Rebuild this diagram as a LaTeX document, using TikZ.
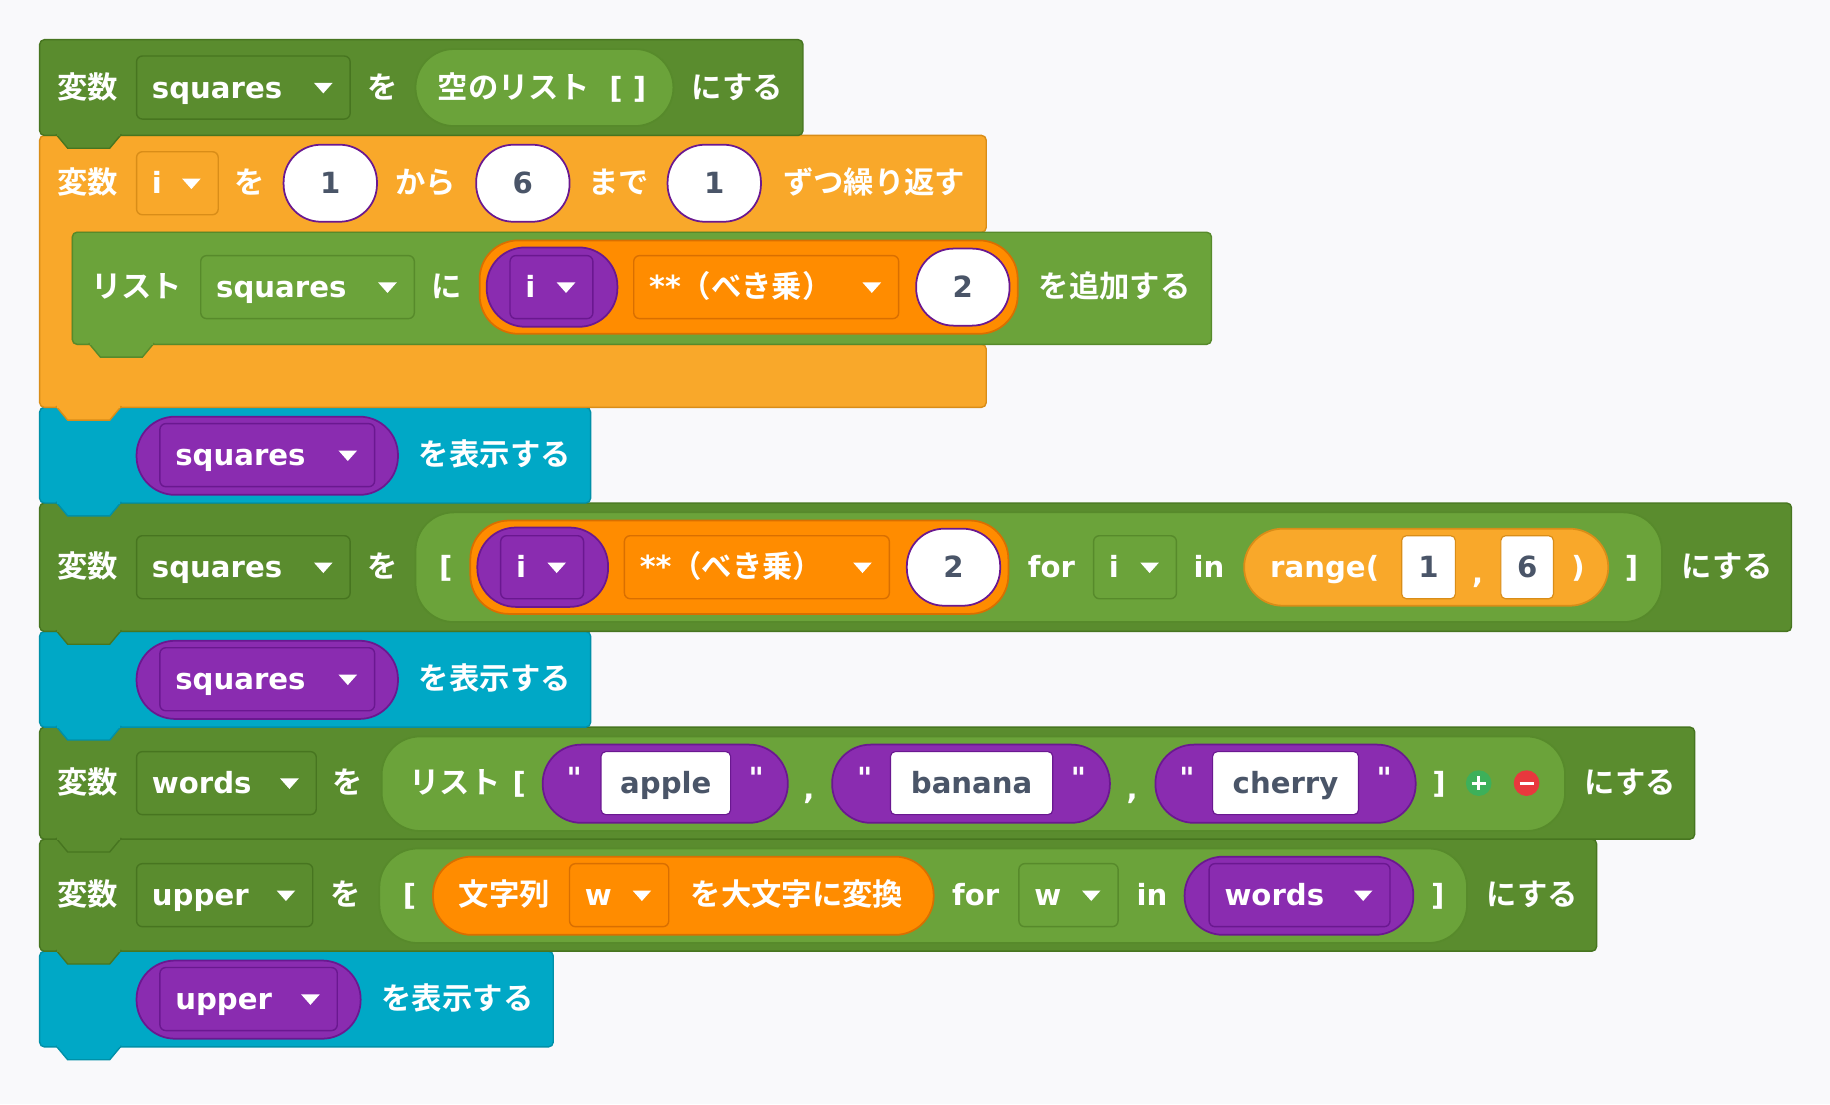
\documentclass[tikz,border=0pt]{standalone}
\usepackage{fontspec}
\setmainfont{Noto Sans CJK JP}[BoldFont={* Bold}]
\newfontfamily\lat{DejaVu Sans}
\definecolor{bg}{HTML}{F9F9FB}
\definecolor{vg}{HTML}{5A8C2E}\definecolor{vgb}{HTML}{477520}
\definecolor{lg}{HTML}{6BA33A}\definecolor{lgb}{HTML}{578A2B}
\definecolor{og}{HTML}{F9A82A}\definecolor{ogb}{HTML}{D98D18}
\definecolor{tl}{HTML}{00A8C6}\definecolor{tlb}{HTML}{0090A8}
\definecolor{pu}{HTML}{8A2CB0}\definecolor{pub}{HTML}{6A1890}
\definecolor{or}{HTML}{FF8C00}\definecolor{orb}{HTML}{D96F00}
\definecolor{sl}{HTML}{4A5568}
\definecolor{pl}{HTML}{3DB05A}\definecolor{mi}{HTML}{E8383D}
\tikzset{
 lbl/.style={text=white,font=\bfseries\fontsize{26}{30}\selectfont,inner sep=0pt,text height=22pt,text depth=4pt},
 ll/.style={lbl,font=\lat\bfseries\fontsize{25}{30}\selectfont},
 dlbl/.style={text=sl,font=\lat\bfseries\fontsize{25}{30}\selectfont,inner sep=0pt,text height=22pt,text depth=4pt},
}
\newcommand{\blk}[6]{%
 \filldraw[fill=#5,draw=#6,line width=1.2pt,rounded corners=4pt] (#1,#2) rectangle (#3,#4);
 \filldraw[fill=#5,draw=#6,line width=1.2pt] (#1+14,#4-1) -- (#1+24,#4+11) -- (#1+60,#4+11) -- (#1+70,#4-1);
 \fill[#5] (#1+15,#4-2) rectangle (#1+69,#4+0.5);}
\newcommand{\ddn}[7]{%
 \filldraw[fill=#5,draw=#6,line width=1.2pt,rounded corners=5pt] (#2,#4-27) rectangle (#3,#4+27);
 \node[ll,anchor=west] (#1) at (#2+13,#4) {#7};
 \fill[white] (#3-31,#4-4) -- (#3-15,#4-4) -- (#3-23,#4+5) -- cycle;}
\newcommand{\pill}[6]{\filldraw[fill=#5,draw=#6,line width=1.5pt,rounded corners=33pt] (#1,#2) rectangle (#3,#4);}
\newcommand{\ov}[5]{\filldraw[fill=white,draw=#5,line width=1.5pt,rounded corners=32pt] (#1,#2-33) rectangle (#3,#2+33);
 \node[dlbl] at ({(#1+#3)/2},#2) {#4};}
\newcommand{\wrect}[5]{\filldraw[fill=white,draw=#5,line width=1pt,rounded corners=4pt] (#1,#2-27) rectangle (#3,#2+27);
 \node[dlbl] at ({(#1+#3)/2},#2) {#4};}
\begin{document}
\begin{tikzpicture}[x=1pt,y=-1pt]
\useasboundingbox (0,0) rectangle (1568,946);
\fill[bg] (0,0) rectangle (1568,946);
% block 8
\blk{34}{815}{474}{897}{tl}{tlb}
\pill{117}{823}{309}{890}{pu}{pub}
\ddn{d8}{137}{289}{856}{pu}{pub}{upper}
\node[lbl] (t8) at (392,856) {を表示する};
% block 7
\blk{34}{719}{1368}{815}{vg}{vgb}
\node[lbl] at (75,767) {変数};
\ddn{d7}{117}{268}{767}{vg}{vgb}{upper}
\node[lbl] at (296,767) {を};
\pill{325}{727}{1257}{808}{lg}{lgb}
\node[ll] at (351,767) {[};
\pill{371}{734}{800}{801}{or}{orb}
\node[lbl] at (432,767) {文字列};
\ddn{d7w}{488}{573}{767}{or}{orb}{w}
\node[lbl] at (683,767) {を大文字に変換};
\node[ll] at (836,767) {for};
\ddn{d7w2}{873}{958}{767}{lg}{lgb}{w}
\node[ll] at (987,767) {in};
\pill{1015}{734}{1211}{801}{pu}{pub}
\ddn{d7x}{1036}{1191}{767}{pu}{pub}{words}
\node[ll] at (1232,767) {]};
\node[lbl] at (1313,767) {にする};
% block 6
\blk{34}{623}{1452}{719}{vg}{vgb}
\node[lbl] at (75,671) {変数};
\ddn{d6}{117}{271}{671}{vg}{vgb}{words}
\node[lbl] at (298,671) {を};
\pill{327}{631}{1341}{712}{lg}{lgb}
\node[lbl] at (390,671) {リスト};
\node[ll] at (445,671) {[};
\pill{465}{638}{675}{705}{pu}{pub}
\node[ll] at (492,667) {"}; \wrect{515}{671}{626}{apple}{pub} \node[ll] at (648,667) {"};
\node[ll] at (693,676) {,};
\pill{713}{638}{951}{705}{pu}{pub}
\node[ll] at (741,667) {"}; \wrect{763}{671}{902}{banana}{pub} \node[ll] at (924,667) {"};
\node[ll] at (970,676) {,};
\pill{990}{638}{1213}{705}{pu}{pub}
\node[ll] at (1017,667) {"}; \wrect{1039}{671}{1164}{cherry}{pub} \node[ll] at (1186,667) {"};
\node[ll] at (1233,671) {]};
\fill[pl] (1267,671) circle (11); \draw[white,line width=2.5pt] (1261,671)--(1273,671) (1267,665)--(1267,677);
\fill[mi] (1308,671) circle (11); \draw[white,line width=2.5pt] (1302,671)--(1314,671);
\node[lbl] at (1397,671) {にする};
% block 5
\blk{34}{541}{506}{623}{tl}{tlb}
\pill{117}{549}{341}{616}{pu}{pub}
\ddn{d5}{137}{321}{582}{pu}{pub}{squares}
\node[lbl] at (424,582) {を表示する};
% block 4
\blk{34}{431}{1535}{541}{vg}{vgb}
\node[lbl] at (75,486) {変数};
\ddn{d4}{117}{300}{486}{vg}{vgb}{squares}
\node[lbl] at (328,486) {を};
\pill{356}{439}{1424}{533}{lg}{lgb}
\node[ll] at (382,486) {[};
\pill{403}{446}{864}{526}{or}{orb}
\pill{409}{452}{521}{520}{pu}{pub}
\ddn{d4i}{429}{500}{486}{pu}{pub}{i}
\filldraw[fill=or,draw=orb,line width=1.2pt,rounded corners=5pt] (535,459) rectangle (762,513);
\node[lbl,anchor=west] (d4o) at (548,486) {\lat **\rmfamily（べき乗）};
\fill[white] (731,482) -- (747,482) -- (739,491) -- cycle;
\ov{777}{486}{857}{2}{pub}
\node[ll] at (901,486) {for};
\ddn{d4i2}{937}{1008}{486}{lg}{lgb}{i}
\node[ll] at (1036,486) {in};
\pill{1066}{453}{1378}{519}{og}{ogb}
\node[ll] at (1135,486) {range(};
\wrect{1201}{486}{1247}{1}{ogb}
\node[ll] at (1266,491) {,};
\wrect{1286}{486}{1331}{6}{ogb}
\node[ll] at (1352,486) {)};
\node[ll] at (1398,486) {]};
\node[lbl] at (1480,486) {にする};
% block 3
\blk{34}{349}{506}{431}{tl}{tlb}
\pill{117}{357}{341}{424}{pu}{pub}
\ddn{d3}{137}{321}{390}{pu}{pub}{squares}
\node[lbl] at (424,390) {を表示する};
% loop
\filldraw[fill=og,draw=ogb,line width=1.2pt,rounded corners=4pt] (34,116)--(845,116)--(845,199)--(62,199)--(62,295)--(845,295)--(845,349)--(34,349)--cycle;
\filldraw[fill=og,draw=ogb,line width=1.2pt] (48,348) -- (58,360) -- (94,360) -- (104,348);
\fill[og] (49,347) rectangle (103,349.5);
\node[lbl] at (75,157) {変数};
\ddn{dl}{117}{187}{157}{og}{ogb}{i}
\node[lbl] at (214,157) {を};
\ov{243}{157}{323}{1}{pub}
\node[lbl] at (365,157) {から};
\ov{408}{157}{488}{6}{pub}
\node[lbl] at (530,157) {まで};
\ov{572}{157}{652}{1}{pub}
\node[lbl] at (749,157) {ずつ繰り返す};
% inner block
\blk{62}{199}{1038}{295}{lg}{lgb}
\node[lbl] at (117,246) {リスト};
\ddn{di}{172}{355}{246}{lg}{lgb}{squares}
\node[lbl] at (383,246) {に};
\pill{411}{206}{872}{286}{or}{orb}
\pill{417}{212}{529}{280}{pu}{pub}
\ddn{dii}{437}{508}{246}{pu}{pub}{i}
\filldraw[fill=or,draw=orb,line width=1.2pt,rounded corners=5pt] (543,219) rectangle (770,273);
\node[lbl,anchor=west] (dio) at (556,246) {\lat **\rmfamily（べき乗）};
\fill[white] (739,242) -- (755,242) -- (747,251) -- cycle;
\ov{785}{246}{865}{2}{pub}
\node[lbl] at (955,246) {を追加する};
% block 1
\blk{34}{34}{688}{116}{vg}{vgb}
\node[lbl] at (75,75) {変数};
\ddn{d1}{117}{300}{75}{vg}{vgb}{squares}
\node[lbl] at (328,75) {を};
\pill{356}{42}{577}{108}{lg}{lgb}
\node[lbl] at (440,75) {空のリスト};
\node[ll] at (538,75) {[ ]};
\node[lbl] at (632,75) {にする};
\end{tikzpicture}
\end{document}
